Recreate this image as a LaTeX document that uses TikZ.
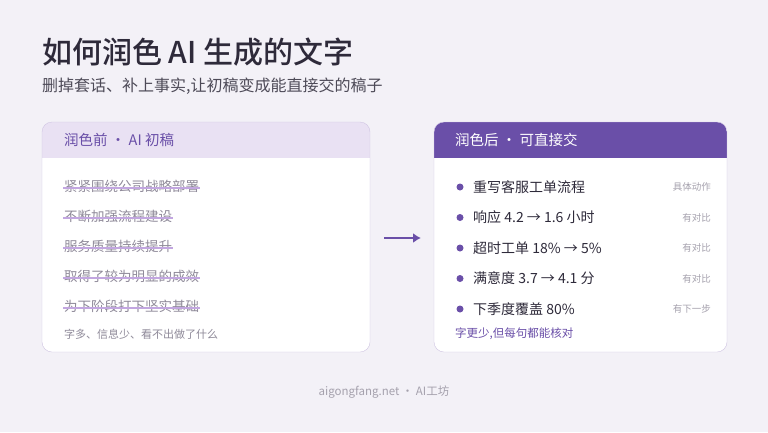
\documentclass[tikz,border=0pt]{standalone}
\usepackage{fontspec}
\setmainfont{Noto Sans CJK SC}
\newfontfamily\medfont{Noto Sans CJK SC Medium}
\usetikzlibrary{positioning,arrows.meta}
\definecolor{bgc}{HTML}{F3F1F7}
\definecolor{ink}{HTML}{2E2A3A}
\definecolor{purp}{HTML}{6A4FA8}
\definecolor{lilac}{HTML}{E9E1F3}
\definecolor{edge}{HTML}{CFC4E2}
\definecolor{grey}{HTML}{8F8A99}
\definecolor{strike}{HTML}{C2A6E0}
\tikzset{old/.style={anchor=west,inner sep=0pt,text=grey,font=\fontsize{13.5}{15}\selectfont}}
\tikzset{new/.style={anchor=west,inner sep=0pt,text=ink,font=\fontsize{14}{16}\selectfont}}
\tikzset{tag/.style={anchor=east,inner sep=0pt,text=grey!80,font=\fontsize{9.5}{11}\selectfont}}
\tikzset{dot/.style={circle,fill=purp,inner sep=0pt,minimum size=7pt}}
\begin{document}
\begin{tikzpicture}[x=1pt,y=-1pt]

    \fill[bgc] (0,0) rectangle (768,432);
    \useasboundingbox (0,0) rectangle (768,432);

    \node[anchor=west,inner sep=0pt,text=ink,font=\medfont\fontsize{30}{34}\selectfont] (title) at (42,52) {如何润色 AI 生成的文字};
    \node[anchor=west,inner sep=0pt,text=ink!85,font=\fontsize{16}{18}\selectfont] (sub) at (42,86) {删掉套话、补上事实,让初稿变成能直接交的稿子};

    % left card
    \begin{scope}
    \clip[rounded corners=10pt] (42,122) rectangle (370,352);
    \fill[white] (42,122) rectangle (370,352);
    \fill[lilac] (42,122) rectangle (370,158);
    \end{scope}
    \draw[edge,rounded corners=10pt] (42,122) rectangle (370,352);
    \node[anchor=west,inner sep=0pt,text=purp,font=\fontsize{14.5}{16}\selectfont] (lhead) at (64,140) {润色前 · AI 初稿};

    \foreach \t [count=\i] in {紧紧围绕公司战略部署,不断加强流程建设,服务质量持续提升,取得了较为明显的成效,为下阶段打下坚实基础}{
        \node[old] (o\i) at (64,186+30*\i-30) {\t};
        \fill[strike] ([xshift=-1pt,yshift=-2.7pt]o\i.west) rectangle ([xshift=1pt,yshift=-1.3pt]o\i.east);
    }
    \node[anchor=west,inner sep=0pt,text=grey,font=\fontsize{11}{13}\selectfont] (lnote) at (64,334) {字多、信息少、看不出做了什么};

    % arrow
    \coordinate (a1) at (384,238);
    \coordinate (a2) at (421,238);
    \draw[purp,line width=2.8pt,-{Latex[length=8pt,width=10pt]}] (a1) -- (a2);

    % right card
    \begin{scope}
    \clip[rounded corners=10pt] (434,122) rectangle (727,352);
    \fill[white] (434,122) rectangle (727,352);
    \fill[purp] (434,122) rectangle (727,158);
    \end{scope}
    \draw[edge,rounded corners=10pt] (434,122) rectangle (727,352);
    \node[anchor=west,inner sep=0pt,text=white,font=\fontsize{14.5}{16}\selectfont] (rhead) at (455,140) {润色后 · 可直接交};

    \foreach \t/\n [count=\i] in {重写客服工单流程/具体动作,响应 4.2 → 1.6 小时/有对比,超时工单 18\% → 5\%/有对比,满意度 3.7 → 4.1 分/有对比,下季度覆盖 80\%/有下一步}{
        \node[dot] (d\i) at (460,187+30.5*\i-30.5) {};
        \node[new] (n\i) at (473,187+30.5*\i-30.5) {\t};
        \node[tag] (t\i) at (711,187+30.5*\i-30.5) {\n};
    }
    \node[anchor=west,inner sep=0pt,text=purp,font=\fontsize{11.5}{13}\selectfont] (rnote) at (455,334) {字更少,但每句都能核对};

    \node[text=grey!80,font=\fontsize{11.5}{13}\selectfont] (foot) at (384,392) {aigongfang.net · AI工坊};

\end{tikzpicture}
\end{document}
